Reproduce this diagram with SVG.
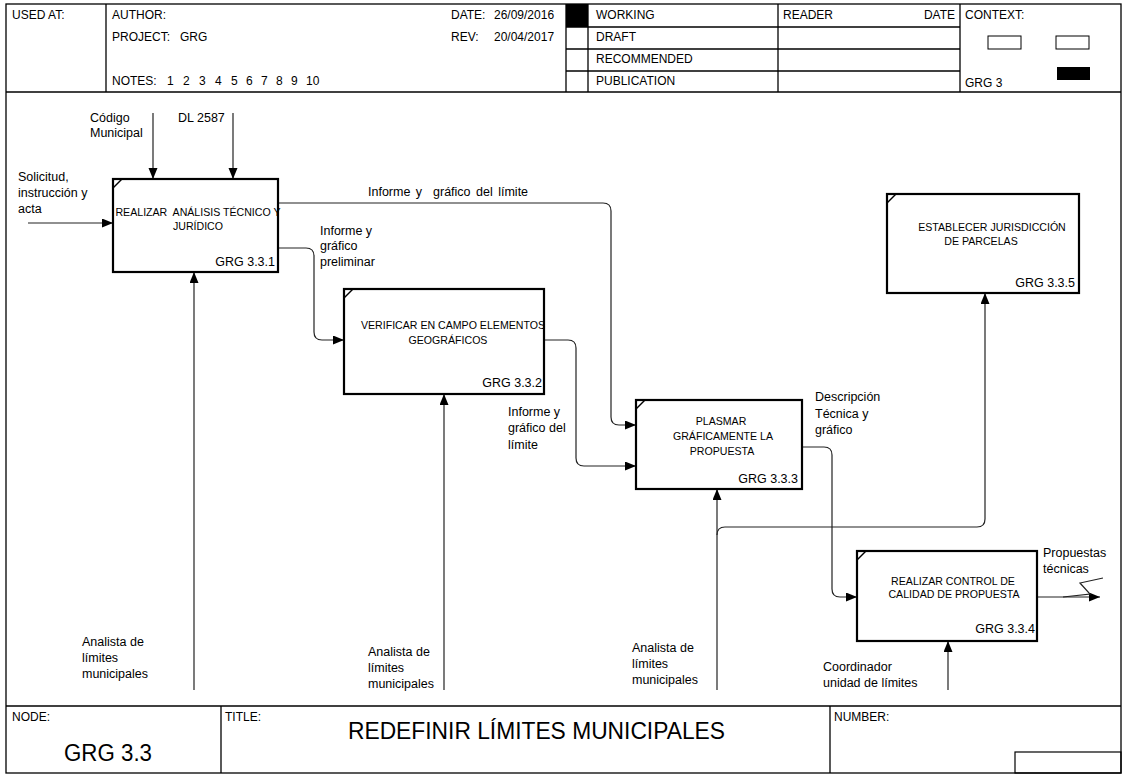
<svg xmlns="http://www.w3.org/2000/svg" width="1124" height="776" viewBox="0 0 1124 776">
<style>
text{font-family:"Liberation Sans",Arial,sans-serif;fill:#000}
.h{font-size:12px}
.lb{font-size:12.5px}
.bt{font-size:10.6px;text-anchor:middle}
.id{font-size:12.5px;text-anchor:end}
.frame{fill:none;stroke:#000;stroke-width:1.3}
.box{fill:#fff;stroke:#000;stroke-width:2.2}
.diag{stroke:#000;stroke-width:1.5}
.c{fill:none;stroke:#222;stroke-width:1.2}
</style>
<defs>
<marker id="ah" markerUnits="userSpaceOnUse" markerWidth="12" markerHeight="10" refX="11" refY="4.5" orient="auto">
<path d="M0,0 L11,4.5 L0,9 Z" fill="#000"/>
</marker>
</defs>
<rect width="1124" height="776" fill="#fff"/>

<g id="header">
<rect class="frame" x="6" y="4" width="1115" height="769"/>
<line class="frame" x1="6" y1="92" x2="1121" y2="92"/>
<line class="frame" x1="106" y1="4" x2="106" y2="92"/>
<line class="frame" x1="566" y1="4" x2="566" y2="92"/>
<line class="frame" x1="588" y1="4" x2="588" y2="92"/>
<line class="frame" x1="778" y1="4" x2="778" y2="92"/>
<line class="frame" x1="960" y1="4" x2="960" y2="92"/>
<line class="frame" x1="566" y1="27" x2="960" y2="27"/>
<line class="frame" x1="566" y1="49" x2="960" y2="49"/>
<line class="frame" x1="566" y1="71" x2="960" y2="71"/>
<rect x="566" y="4" width="22" height="23" fill="#000"/>
<text class="h" x="12" y="19">USED AT:</text>
<text class="h" x="112" y="19">AUTHOR:</text>
<text class="h" x="112" y="41">PROJECT:<tspan x="180">GRG</tspan></text>
<text class="h" x="112" y="85">NOTES:<tspan x="167">1</tspan><tspan x="183">2</tspan><tspan x="199">3</tspan><tspan x="215">4</tspan><tspan x="231">5</tspan><tspan x="246">6</tspan><tspan x="261">7</tspan><tspan x="276">8</tspan><tspan x="291">9</tspan><tspan x="306">10</tspan></text>
<text class="h" x="451" y="19">DATE:<tspan x="494">26/09/2016</tspan></text>
<text class="h" x="451" y="41">REV:<tspan x="494">20/04/2017</tspan></text>
<text class="h" x="596" y="19">WORKING</text>
<text class="h" x="596" y="41">DRAFT</text>
<text class="h" x="596" y="63">RECOMMENDED</text>
<text class="h" x="596" y="85">PUBLICATION</text>
<text class="h" x="783" y="19">READER</text>
<text class="h" x="955" y="19" text-anchor="end">DATE</text>
<text class="h" x="965" y="19">CONTEXT:</text>
<text class="h" x="965" y="87">GRG 3</text>
<rect x="988" y="36" width="33" height="13" fill="#fff" stroke="#000" stroke-width="1"/>
<rect x="1056" y="36" width="33" height="13" fill="#fff" stroke="#000" stroke-width="1"/>
<rect x="1057" y="67" width="33" height="13" fill="#000"/>
</g>

<g id="connectors">
<path class="c" d="M28,223 H113" marker-end="url(#ah)"/>
<path class="c" d="M153,113 V179" marker-end="url(#ah)"/>
<path class="c" d="M233,113 V179" marker-end="url(#ah)"/>
<path class="c" d="M194,690 V272" marker-end="url(#ah)"/>
<path class="c" d="M278,203 H603 Q611,203 611,211 V417 Q611,425 619,425 H636" marker-end="url(#ah)"/>
<path class="c" d="M278,248 H306 Q314,248 314,256 V332 Q314,340 322,340 H344" marker-end="url(#ah)"/>
<path class="c" d="M544,340 H568 Q576,340 576,348 V458 Q576,466 584,466 H636" marker-end="url(#ah)"/>
<path class="c" d="M444,690 V394" marker-end="url(#ah)"/>
<path class="c" d="M717,690 V489" marker-end="url(#ah)"/>
<path class="c" d="M717,535 Q717,527 725,527 H977 Q985,527 985,519 V293" marker-end="url(#ah)"/>
<path class="c" d="M802,447 H824 Q832,447 832,455 V589 Q832,597 840,597 H857" marker-end="url(#ah)"/>
<path class="c" d="M1037,597 H1100" marker-end="url(#ah)"/>
<path class="c" d="M1063,597 L1090,594 L1080,583 L1103,578"/>
<path class="c" d="M948,690 V641" marker-end="url(#ah)"/>
<text class="lb" x="90" y="122">Código</text>
<text class="lb" x="90" y="137">Municipal</text>
<text class="lb" x="178" y="122">DL 2587</text>
<text class="lb" x="18" y="181">Solicitud,</text>
<text class="lb" x="18" y="197">instrucción y</text>
<text class="lb" x="18" y="213">acta</text>
<text class="lb" x="368" y="196" xml:space="preserve" word-spacing="2">Informe y  gráfico del límite</text>
<text class="lb" x="320" y="235">Informe y</text>
<text class="lb" x="320" y="250">gráfico</text>
<text class="lb" x="320" y="266">preliminar</text>
<text class="lb" x="508" y="416">Informe y</text>
<text class="lb" x="508" y="432">gráfico del</text>
<text class="lb" x="508" y="449">límite</text>
<text class="lb" x="815" y="401">Descripción</text>
<text class="lb" x="815" y="418">Técnica y</text>
<text class="lb" x="815" y="434">gráfico</text>
<text class="lb" x="1043" y="557">Propuestas</text>
<text class="lb" x="1043" y="573">técnicas</text>
<text class="lb" x="823" y="671">Coordinador</text>
<text class="lb" x="823" y="687">unidad de límites</text>
<text class="lb" x="82" y="646">Analista de</text>
<text class="lb" x="82" y="662">límites</text>
<text class="lb" x="82" y="678">municipales</text>
<text class="lb" x="368" y="656">Analista de</text>
<text class="lb" x="368" y="672">límites</text>
<text class="lb" x="368" y="688">municipales</text>
<text class="lb" x="632" y="652">Analista de</text>
<text class="lb" x="632" y="668">límites</text>
<text class="lb" x="632" y="684">municipales</text>
</g>

<g id="box1">
<rect class="box" x="113" y="179" width="165" height="93"/>
<line class="diag" x1="113" y1="188" x2="122" y2="179"/>
<text class="bt" x="198" y="216" xml:space="preserve">REALIZAR  ANÁLISIS TÉCNICO Y</text>
<text class="bt" x="198" y="230">JURÍDICO</text>
<text class="id" x="275" y="266">GRG 3.3.1</text>
</g>

<g id="box2">
<rect class="box" x="344" y="289" width="200" height="105"/>
<line class="diag" x1="344" y1="298" x2="353" y2="289"/>
<text class="bt" x="453" y="329">VERIFICAR EN CAMPO ELEMENTOS</text>
<text class="bt" x="448" y="344">GEOGRÁFICOS</text>
<text class="id" x="542" y="387">GRG 3.3.2</text>
</g>

<g id="box3">
<rect class="box" x="636" y="400" width="166" height="89"/>
<line class="diag" x1="636" y1="409" x2="645" y2="400"/>
<text class="bt" x="721" y="425">PLASMAR</text>
<text class="bt" x="723" y="440">GRÁFICAMENTE LA</text>
<text class="bt" x="722" y="455">PROPUESTA</text>
<text class="id" x="798" y="483">GRG 3.3.3</text>
</g>

<g id="box4">
<rect class="box" x="857" y="551" width="180" height="90"/>
<line class="diag" x1="857" y1="560" x2="866" y2="551"/>
<text class="bt" x="953" y="585">REALIZAR CONTROL DE</text>
<text class="bt" x="954" y="598">CALIDAD DE PROPUESTA</text>
<text class="id" x="1035" y="633">GRG 3.3.4</text>
</g>

<g id="box5">
<rect class="box" x="887" y="194" width="192" height="99"/>
<line class="diag" x1="887" y1="203" x2="896" y2="194"/>
<text class="bt" x="992" y="231">ESTABLECER JURISDICCIÓN</text>
<text class="bt" x="981" y="245">DE PARCELAS</text>
<text class="id" x="1075" y="287">GRG 3.3.5</text>
</g>

<g id="footer">
<line class="frame" x1="6" y1="706" x2="1121" y2="706"/>
<line class="frame" x1="221" y1="706" x2="221" y2="773"/>
<line class="frame" x1="830" y1="706" x2="830" y2="773"/>
<rect x="1015" y="752" width="106" height="21" fill="none" stroke="#000" stroke-width="1.2"/>
<text class="h" x="12" y="721">NODE:</text>
<text class="h" x="225" y="721">TITLE:</text>
<text class="h" x="834" y="721">NUMBER:</text>
<text x="348" y="739" font-size="23" textLength="377" lengthAdjust="spacingAndGlyphs">REDEFINIR LÍMITES MUNICIPALES</text>
<text x="64" y="761" font-size="23" textLength="88" lengthAdjust="spacingAndGlyphs">GRG 3.3</text>
</g>
</svg>
